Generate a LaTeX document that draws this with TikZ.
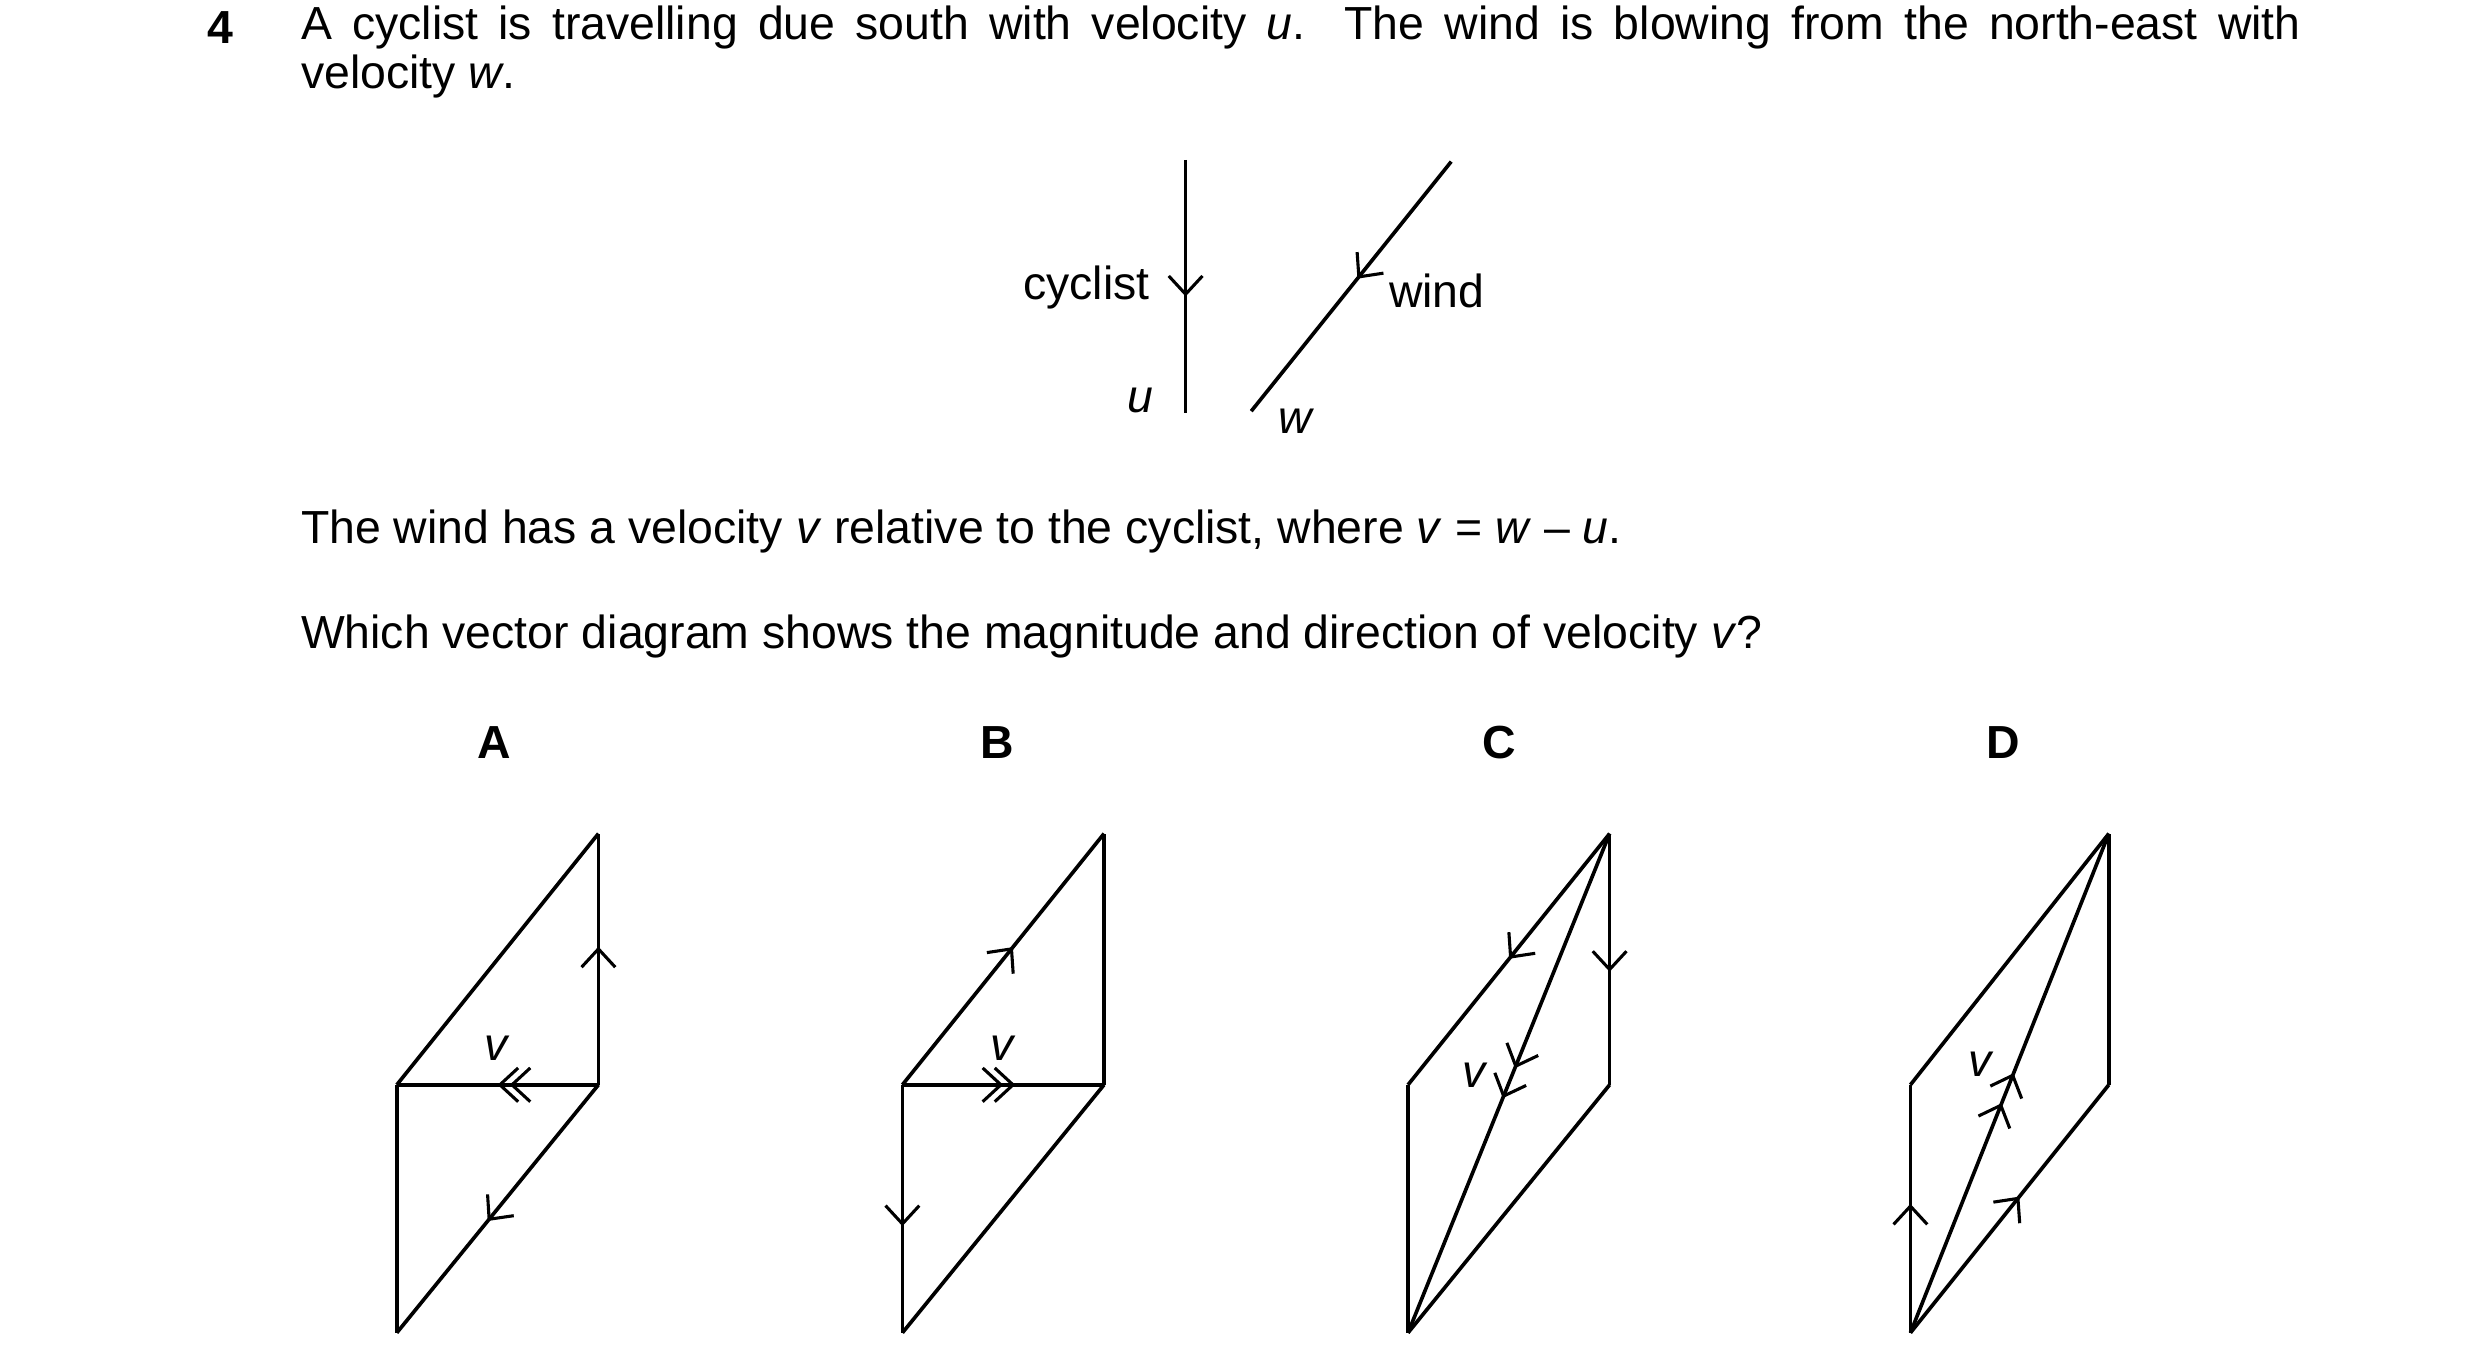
\documentclass[tikz,border=0pt]{standalone}
\usepackage{fontspec}
\setmainfont{Liberation Sans}
\usetikzlibrary{decorations.markings,arrows.meta}
\begin{document}
\begin{tikzpicture}[x=0.02cm,y=-0.02cm,line width=1.3pt,
  txt/.style={font=\fontsize{16.5}{20}\selectfont,inner sep=0pt},
  tip/.tip={Straight Barb[length=6.5pt,width=12pt,line width=1.1pt]},
  ar/.style={postaction={decorate},decoration={markings,mark=at position #1 with {\arrow{tip}}}},
  dar/.style={postaction={decorate},decoration={markings,
     mark=at position #1 with {\arrow{tip}},
     mark=at position #1+0.06 with {\arrow{tip}}}}]
\useasboundingbox (0,0) rectangle (1550,851);
\node[txt,font=\fontsize{16.5}{20}\selectfont\bfseries] (n4) at (138,17) {4};
\node[txt,anchor=west] (q1) at (187,17) {\makebox[25cm][s]{A cyclist is travelling due south with velocity \textit{u}. The wind is blowing from the north-east with}};
\node[txt,anchor=west] (q2) at (187,48) {velocity \textit{w}.};
% top vectors
\coordinate (c1) at (741,100); \coordinate (c2) at (741,258);
\draw[ar=0.54] (c1) -- (c2);
\coordinate (w1) at (907,101); \coordinate (w2) at (782,257);
\draw[ar=0.47] (w1) -- (w2);
\node[txt] (lc) at (679,180) {cyclist};
\node[txt] (lu) at (713,250) {\textit{u}};
\node[txt] (lw) at (898,182) {wind};
\node[txt] (lww) at (810,263) {\textit{w}};
\node[txt,anchor=west] (t1) at (187,332) {The wind has a velocity \textit{v} relative to the cyclist, where \textit{v} = \textit{w} – \textit{u}.};
\node[txt,anchor=west] (t2) at (187,398) {Which vector diagram shows the magnitude and direction of velocity \textit{v}?};
\foreach \L/\x in {A/309,B/623,C/937,D/1252}
  \node[txt,font=\fontsize{16.5}{20}\selectfont\bfseries] (L\L) at (\x,464) {\L};
% A
\coordinate (a1) at (248,833); \coordinate (a2) at (248,678); \coordinate (a3) at (374,678); \coordinate (a4) at (374,521);
\draw (a1) -- (a2); \draw (a2) -- (a4); \draw[ar=0.55] (a3) -- (a4);
\draw[dar=0.44] (a3) -- (a2); \draw[ar=0.55] (a3) -- (a1);
\node[txt] (va) at (311,655) {\textit{v}};
% B
\coordinate (b1) at (564,833); \coordinate (b2) at (564,678); \coordinate (b3) at (690,678); \coordinate (b4) at (690,521);
\draw[ar=0.57] (b2) -- (b1); \draw[ar=0.55] (b2) -- (b4); \draw (b3) -- (b4);
\draw[dar=0.5] (b2) -- (b3); \draw (b3) -- (b1);
\node[txt] (vb) at (627,655) {\textit{v}};
% C
\coordinate (cc1) at (880,833); \coordinate (cc2) at (880,678); \coordinate (cc3) at (1006,678); \coordinate (cc4) at (1006,521);
\draw (cc1) -- (cc2); \draw[ar=0.5] (cc4) -- (cc2); \draw[ar=0.55] (cc4) -- (cc3); \draw (cc3) -- (cc1);
\draw[dar=0.47] (cc4) -- (cc1);
\node[txt] (vc) at (922,672) {\textit{v}};
% D
\coordinate (d1) at (1194,833); \coordinate (d2) at (1194,678); \coordinate (d3) at (1318,678); \coordinate (d4) at (1318,521);
\draw[ar=0.52] (d1) -- (d2); \draw (d2) -- (d4); \draw (d3) -- (d4); \draw[ar=0.55] (d1) -- (d3);
\draw[dar=0.46] (d1) -- (d4);
\node[txt] (vd) at (1238,665) {\textit{v}};
\end{tikzpicture}
\end{document}
